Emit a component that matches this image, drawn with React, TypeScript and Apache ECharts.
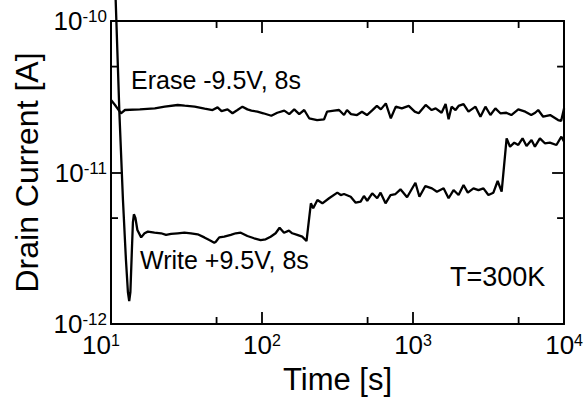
import React, { useEffect, useRef } from "react";
import * as echarts from "echarts";

const FONT = "'Liberation Sans', Arial, Helvetica, sans-serif";

const xTicks = [10, 100, 1000, 10000];
const yTicks = [1e-12, 1e-11, 1e-10];
const minorXTicks = [50, 500, 5000];
const minorYTicks = [5e-12, 5e-11];

const eraseTime = [10, 10.63, 11.12, 11.64, 12.37, 15.53, 19.5, 22.7, 27.66, 30.75, 35.79, 41.68, 47.03, 50.77, 53.94, 59.08, 63.74, 68.77, 74.19, 80.03, 85.04, 93.17, 102, 115.2, 126.2, 140.4, 151.4, 163.4, 176.3, 190.2, 205.2, 231.6, 257.6, 269.6, 300, 323.6, 349, 365.3, 388.2, 425.4, 458.7, 494.9, 534, 576.1, 612.1, 660.3, 712.4, 768.6, 842, 936.3, 1026, 1090, 1212, 1328, 1411, 1545, 1642, 1719, 1799, 1911, 2001, 2159, 2328, 2590, 2794, 3014, 3252, 3508, 3784, 4145, 4472, 4974, 5532, 6059, 6439, 6738, 7269, 8085, 9129, 9555, 10000];
const eraseCurrent = [3.01e-11, 2.79e-11, 2.62e-11, 2.46e-11, 2.585e-11, 2.61e-11, 2.65e-11, 2.72e-11, 2.79e-11, 2.76e-11, 2.72e-11, 2.64e-11, 2.585e-11, 2.69e-11, 2.545e-11, 2.61e-11, 2.46e-11, 2.585e-11, 2.72e-11, 2.61e-11, 2.56e-11, 2.52e-11, 2.46e-11, 2.37e-11, 2.48e-11, 2.56e-11, 2.43e-11, 2.61e-11, 2.43e-11, 2.585e-11, 2.28e-11, 2.22e-11, 2.245e-11, 2.52e-11, 2.56e-11, 2.585e-11, 2.395e-11, 2.585e-11, 2.43e-11, 2.395e-11, 2.52e-11, 2.395e-11, 2.56e-11, 2.75e-11, 2.61e-11, 2.86e-11, 2.28e-11, 2.72e-11, 2.65e-11, 2.75e-11, 2.52e-11, 2.46e-11, 2.79e-11, 2.585e-11, 2.65e-11, 2.48e-11, 2.83e-11, 2.245e-11, 2.72e-11, 2.585e-11, 2.75e-11, 2.83e-11, 2.52e-11, 2.72e-11, 2.335e-11, 2.72e-11, 2.395e-11, 2.65e-11, 2.46e-11, 2.48e-11, 2.395e-11, 2.61e-11, 2.52e-11, 2.395e-11, 2.48e-11, 2.585e-11, 2.335e-11, 2.395e-11, 2.22e-11, 2.19e-11, 2.65e-11];

const writeTime = [10.63, 11.38, 12.0, 12.56, 12.94, 13.2, 13.44, 13.75, 13.97, 14.18, 14.51, 14.95, 15.84, 16.68, 17.54, 19.41, 21.46, 23.15, 24.98, 27.66, 30.61, 33.84, 37.47, 41.49, 44.76, 48.26, 49.45, 52.07, 56.2, 62.13, 67.0, 72.3, 80.0, 88.6, 97.9, 105.7, 114.0, 123.0, 130.7, 139.8, 150.7, 158.5, 171.0, 184.5, 197.0, 203.7, 210.6, 218.1, 232.7, 251.0, 277.9, 315.3, 332.0, 349.0, 386.4, 416.9, 449.7, 472.8, 497.2, 536.4, 578.6, 609.4, 657.3, 709.1, 765.0, 825.2, 912.7, 1036.5, 1102, 1206, 1334, 1439, 1593, 1719, 1854, 2001, 2159, 2304, 2512, 2710, 2924, 3154, 3403, 3632, 3860, 4164, 4386, 4682, 4974, 5309, 5641, 6086, 6410, 6917, 7459, 8047, 8897, 9598, 10000];
const writeCurrent = [1.865e-10, 2.395e-11, 6.58e-12, 2.645e-12, 1.626e-12, 1.418e-12, 1.626e-12, 3.08e-12, 4.71e-12, 5.3e-12, 5.01e-12, 4.17e-12, 3.73e-12, 3.97e-12, 4.07e-12, 4.005e-12, 3.97e-12, 3.87e-12, 3.93e-12, 3.97e-12, 4.005e-12, 3.97e-12, 3.91e-12, 3.73e-12, 3.58e-12, 3.44e-12, 3.49e-12, 3.73e-12, 3.77e-12, 3.87e-12, 3.97e-12, 4.005e-12, 3.81e-12, 3.68e-12, 3.58e-12, 3.62e-12, 3.77e-12, 3.97e-12, 4.32e-12, 4.005e-12, 4.13e-12, 3.97e-12, 3.87e-12, 3.77e-12, 3.53e-12, 4.71e-12, 6.26e-12, 5.8e-12, 6.58e-12, 6.26e-12, 6.76e-12, 7.36e-12, 7.1e-12, 7.21e-12, 6.92e-12, 6.32e-12, 6.42e-12, 7.0e-12, 6.51e-12, 7.29e-12, 6.76e-12, 7.36e-12, 6.26e-12, 7.1e-12, 7.21e-12, 7.74e-12, 6.86e-12, 8.56e-12, 6.92e-12, 8.14e-12, 7.86e-12, 7.47e-12, 7.86e-12, 6.76e-12, 7.66e-12, 7.1e-12, 8.27e-12, 7.36e-12, 7.86e-12, 7.66e-12, 7.86e-12, 7.1e-12, 7.36e-12, 8.79e-12, 7.47e-12, 1.681e-11, 1.48e-11, 1.573e-11, 1.519e-11, 1.681e-11, 1.496e-11, 1.639e-11, 1.48e-11, 1.681e-11, 1.559e-11, 1.573e-11, 1.519e-11, 1.723e-11, 1.597e-11];

const eraseLabel = "Erase -9.5V, 8s";
const writeLabel = "Write +9.5V, 8s";
const tempLabel = "T=300K";
const xTitle = "Time [s]";
const yTitle = "Drain Current [A]";

const zip = (a: number[], b: number[]) => a.slice(0, Math.min(a.length, b.length)).map((v, i) => [v, b[i]]);
const expOf = (v: number) => Math.round(Math.log10(v));

export default function App() {
  const ref = useRef<HTMLDivElement>(null);
  useEffect(() => {
    if (!ref.current) return;
    const chart = echarts.init(ref.current, null, { renderer: "svg" });
    const xMin = xTicks[0], xMax = xTicks[xTicks.length - 1];
    const yMin = yTicks[0], yMax = yTicks[yTicks.length - 1];
    const line = { color: "#000", width: 2 };
    const baseX = {
      type: "log" as const,
      logBase: 10,
      min: xMin,
      max: xMax,
      splitNumber: xTicks.length - 1,
      axisLine: { show: true, lineStyle: line },
      axisTick: { show: true, inside: true, length: 12, lineStyle: { color: "#000", width: 1.8 } },
      splitLine: { show: false },
      minorTick: { show: false },
    };
    const baseY = {
      type: "log" as const,
      logBase: 10,
      min: yMin,
      max: yMax,
      splitNumber: yTicks.length - 1,
      axisLine: { show: true, lineStyle: line },
      axisTick: { show: true, inside: true, length: 12, lineStyle: { color: "#000", width: 1.8 } },
      splitLine: { show: false },
      minorTick: { show: false },
    };
    const tickLen = 7;
    chart.setOption({
      animation: false,
      backgroundColor: "#fff",
      textStyle: { fontFamily: FONT },
      grid: { left: 111, right: 20, top: 21, bottom: 79, containLabel: false },
      xAxis: [
        {
          ...baseX,
          position: "bottom",
          name: xTitle,
          nameLocation: "middle",
          nameGap: 40,
          nameTextStyle: { fontSize: 31, color: "#000", fontFamily: FONT },
          axisLabel: {
            show: true,
            margin: 8,
            color: "#000",
            formatter: (v: number) => {
              const e = expOf(v);
              return e === 1 ? `{b|10}{s1|${e}}` : `{b|10}{s|${e}}`;
            },
            rich: {
              b: { fontSize: 26, fontFamily: FONT, color: "#000", lineHeight: 26, verticalAlign: "bottom" },
              s: { fontSize: 16, fontFamily: FONT, color: "#000", lineHeight: 10, verticalAlign: "top" },
              s1: { fontSize: 16, fontFamily: FONT, color: "#000", lineHeight: 10, verticalAlign: "top", padding: [0, 20, 0, 0] },
            },
          },
        },
        { ...baseX, position: "top", axisLabel: { show: false } },
      ],
      yAxis: [
        {
          ...baseY,
          position: "left",
          name: yTitle,
          nameLocation: "middle",
          nameRotate: 90,
          nameGap: 66,
          nameTextStyle: { fontSize: 32, color: "#000", fontFamily: FONT },
          axisLabel: {
            show: true,
            margin: 4,
            color: "#000",
            formatter: (v: number) => `{b|10}{s|${expOf(v)}}`,
            rich: {
              b: { fontSize: 26, fontFamily: FONT, color: "#000", lineHeight: 26, verticalAlign: "bottom" },
              s: { fontSize: 17, fontFamily: FONT, color: "#000", lineHeight: 10, verticalAlign: "top" },
            },
          },
        },
        { ...baseY, position: "right", axisLabel: { show: false } },
      ],
      series: [
        {
          name: "Erase",
          type: "line",
          data: zip(eraseTime, eraseCurrent),
          showSymbol: false,
          symbol: "none",
          lineStyle: { color: "#000", width: 2.3 },
          clip: false,
          z: 3,
        },
        {
          name: "Write",
          type: "line",
          data: zip(writeTime, writeCurrent),
          showSymbol: false,
          symbol: "none",
          lineStyle: { color: "#000", width: 2.3 },
          clip: false,
          z: 3,
        },
        {
          name: "minorX",
          type: "custom",
          data: minorXTicks.map((v) => [v, yMin]),
          renderItem: (params: any, api: any) => {
            const cs = params.coordSys;
            const p = api.coord([api.value(0), yMin]);
            const top = cs.y, bottom = cs.y + cs.height;
            const st = { stroke: "#000", lineWidth: 1.8 };
            return {
              type: "group",
              children: [
                { type: "line", shape: { x1: p[0], y1: bottom, x2: p[0], y2: bottom - tickLen }, style: st },
                { type: "line", shape: { x1: p[0], y1: top, x2: p[0], y2: top + tickLen }, style: st },
              ],
            };
          },
          silent: true,
          z: 4,
        },
        {
          name: "minorY",
          type: "custom",
          data: minorYTicks.map((v) => [xMin, v]),
          renderItem: (params: any, api: any) => {
            const cs = params.coordSys;
            const p = api.coord([xMin, api.value(1)]);
            const left = cs.x, right = cs.x + cs.width;
            const st = { stroke: "#000", lineWidth: 1.8 };
            return {
              type: "group",
              children: [
                { type: "line", shape: { x1: left, y1: p[1], x2: left + tickLen, y2: p[1] }, style: st },
                { type: "line", shape: { x1: right, y1: p[1], x2: right - tickLen, y2: p[1] }, style: st },
              ],
            };
          },
          silent: true,
          z: 4,
        },
      ],
      graphic: [
        {
          type: "text",
          left: 131,
          top: 67,
          style: { text: eraseLabel, fontSize: 25, fontFamily: FONT, fill: "#000" },
          z: 10,
        },
        {
          type: "text",
          left: 140,
          top: 247,
          style: { text: writeLabel, fontSize: 25, fontFamily: FONT, fill: "#000" },
          z: 10,
        },
        {
          type: "text",
          left: 450,
          top: 263,
          style: { text: tempLabel, fontSize: 27, fontFamily: FONT, fill: "#000" },
          z: 10,
        },
      ],
    });
    return () => chart.dispose();
  }, []);
  return (
    <div
      ref={ref}
      style={{ position: "fixed", left: 0, top: 0, width: 586, height: 403, background: "#fff" }}
    />
  );
}
